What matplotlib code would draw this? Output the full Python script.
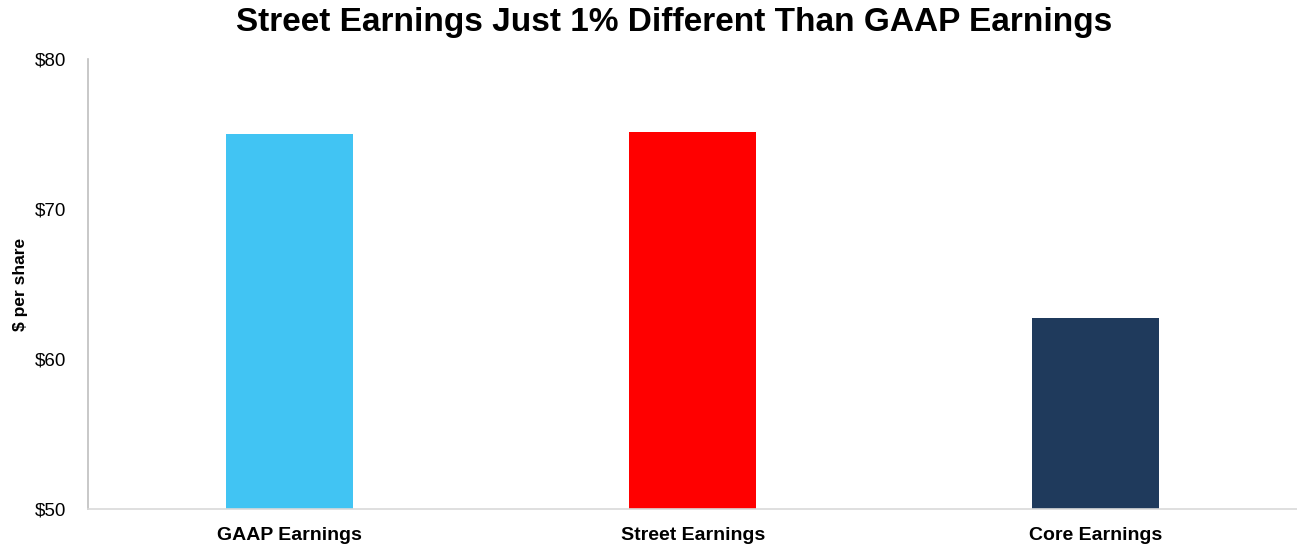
import matplotlib
matplotlib.use("Agg")
import matplotlib.pyplot as plt

plt.rcParams['font.family'] = ['Liberation Sans', 'DejaVu Sans']

categories = ["GAAP Earnings", "Street Earnings", "Core Earnings"]
values = [75.0, 75.15, 62.75]
colors = ["#41C4F3", "#FF0000", "#1F3A5C"]
yticks = [50, 60, 70, 80]

fig = plt.figure(figsize=(12.97, 5.45), dpi=100)
ax = fig.add_axes([0.0682, 0.066, 0.9318, 0.8257])

x = range(len(categories))
ax.bar(x, values, width=0.315, color=colors)
ax.set_xlim(-0.5, len(categories) - 0.5)
ax.set_ylim(50, 80)
ax.set_yticks(yticks)
ax.set_yticklabels(["$%d" % v for v in yticks], fontsize=13.5)
ax.set_xticks(list(x))
ax.set_xticklabels(categories, fontsize=14, fontweight="bold")
ax.tick_params(axis="both", length=0)
ax.tick_params(axis="y", pad=16)
ax.tick_params(axis="x", pad=13)

for s in ["top", "right"]:
    ax.spines[s].set_visible(False)
ax.spines["left"].set_color("#BFBFBF")
ax.spines["bottom"].set_color("#D9D9D9")
ax.spines["left"].set_linewidth(1.2)
ax.spines["bottom"].set_linewidth(1.2)

ax.set_ylabel("$ per share", fontsize=12.5, fontweight="bold")
ax.yaxis.set_label_coords(-0.050, 0.5)
fig.text(0.52, 0.958, "Street Earnings Just 1% Different Than GAAP Earnings",
         ha="center", va="center", fontsize=24, fontweight="bold")

fig.savefig("out.png", dpi=100)
